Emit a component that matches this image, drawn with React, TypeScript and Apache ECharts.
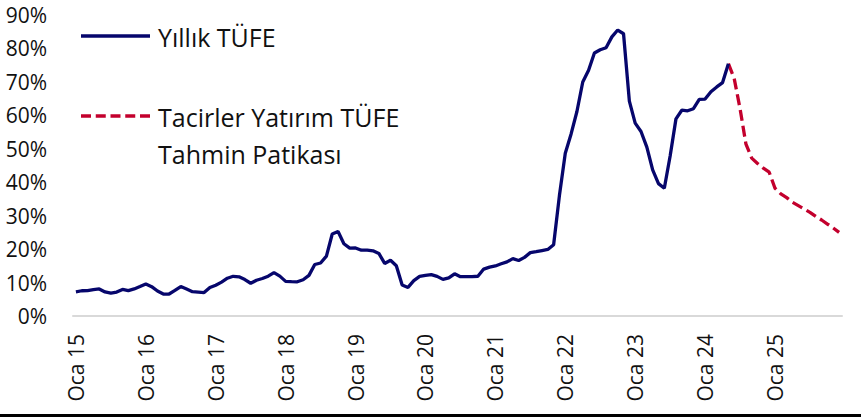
import React, { useEffect, useRef } from "react";
import * as echarts from "echarts";

// Years covered by the x-axis (monthly categories, Jan 2015 – Dec 2025)
const years = [15, 16, 17, 18, 19, 20, 21, 22, 23, 24, 25];
const monthLabel = "Oca";

// Yıllık TÜFE (annual CPI, %), monthly
const cpi2015 = [7.24, 7.55, 7.61, 7.91, 8.09, 7.2, 6.81, 7.14, 7.95, 7.58, 8.1, 8.81];
const cpi2016 = [9.58, 8.78, 7.46, 6.57, 6.58, 7.64, 8.79, 8.05, 7.28, 7.16, 7.0, 8.53];
const cpi2017 = [9.22, 10.13, 11.29, 11.87, 11.72, 10.9, 9.79, 10.68, 11.2, 11.9, 12.98, 11.92];
const cpi2018 = [10.35, 10.26, 10.23, 10.85, 12.15, 15.39, 15.85, 17.9, 24.52, 25.24, 21.62, 20.3];
const cpi2019 = [20.35, 19.67, 19.71, 19.5, 18.71, 15.72, 16.65, 15.01, 9.26, 8.55, 10.56, 11.84];
const cpi2020 = [12.15, 12.37, 11.86, 10.94, 11.39, 12.62, 11.76, 11.77, 11.75, 11.89, 14.03, 14.6];
const cpi2021 = [14.97, 15.61, 16.19, 17.14, 16.59, 17.53, 18.95, 19.25, 19.58, 19.89, 21.31, 36.08];
const cpi2022 = [48.69, 54.44, 61.14, 69.97, 73.5, 78.62, 79.6, 80.21, 83.45, 85.51, 84.39, 64.27];
const cpi2023 = [57.68, 55.18, 50.51, 43.68, 39.59, 38.21, 47.83, 58.94, 61.53, 61.36, 61.98, 64.77];
const cpi2024 = [64.86, 67.07, 68.5, 69.8, 75.45];

// Tacirler Yatırım TÜFE Tahmin Patikası (forecast, May 2024 – Dec 2025)
const forecast = [
  75.45, 71.0, 62.0, 51.5, 47.2, 45.6, 44.2, 43.0,
  38.2, 36.5, 35.4, 34.0, 33.0, 32.0, 31.0, 29.8, 28.7, 27.5, 26.3, 25.0,
];

const yTicks = [0, 10, 20, 30, 40, 50, 60, 70, 80, 90];

const seriesNames = ["Yıllık TÜFE", "Tacirler Yatırım TÜFE\nTahmin Patikası"];
const NAVY = "#06066C";
const RED = "#C3002D";
const FONT = "Open Sans";
const TEXT = "#111111";

export default function App() {
  const ref = useRef<HTMLDivElement>(null);

  useEffect(() => {
    if (!ref.current) return;
    const chart = echarts.init(ref.current, undefined, { renderer: "svg" });

    const categories: string[] = [];
    years.forEach((y) => {
      for (let m = 0; m < 12; m++) categories.push(m === 0 ? `${monthLabel} ${y}` : `${m + 1}/${y}`);
    });

    const actual = [
      ...cpi2015, ...cpi2016, ...cpi2017, ...cpi2018, ...cpi2019,
      ...cpi2020, ...cpi2021, ...cpi2022, ...cpi2023, ...cpi2024,
    ];
    const actualData: (number | null)[] = categories.map((_, i) => (i < actual.length ? actual[i] : null));
    const startF = actual.length - 1;
    const forecastData: (number | null)[] = categories.map((_, i) =>
      i >= startF && i - startF < forecast.length ? forecast[i - startF] : null
    );

    chart.setOption({
      animation: false,
      backgroundColor: "#ffffff",
      textStyle: { fontFamily: FONT },
      grid: { left: 73, right: 19, top: 15, bottom: 101 },
      xAxis: {
        type: "category",
        data: categories,
        boundaryGap: true,
        axisLine: { lineStyle: { color: "#D9D9D9", width: 2 } },
        axisTick: { interval: 11, length: 7, lineStyle: { color: "#D9D9D9", width: 2 } },
        axisLabel: {
          interval: 11,
          rotate: 90,
          margin: 18,
          fontSize: 21,
          color: TEXT,
          fontFamily: FONT,
        },
        splitLine: { show: false },
      },
      yAxis: {
        type: "value",
        min: yTicks[0],
        max: yTicks[yTicks.length - 1],
        interval: 10,
        axisLine: { show: false },
        axisTick: { show: false },
        splitLine: { show: false },
        axisLabel: {
          formatter: "{value}%",
          margin: 26,
          fontSize: 21,
          color: TEXT,
          fontFamily: FONT,
        },
      },
      series: [
        {
          name: seriesNames[0],
          type: "line",
          data: actualData,
          showSymbol: false,
          symbol: "none",
          connectNulls: false,
          lineStyle: { color: NAVY, width: 3.3 },
          itemStyle: { color: NAVY },
          z: 3,
        },
        {
          name: seriesNames[1],
          type: "line",
          data: forecastData,
          showSymbol: false,
          symbol: "none",
          connectNulls: false,
          lineStyle: { color: RED, width: 3.3, type: [11, 5] },
          itemStyle: { color: RED },
          z: 2,
        },
      ],
      graphic: [
        {
          type: "line",
          shape: { x1: 81, y1: 36, x2: 150, y2: 36 },
          style: { stroke: NAVY, lineWidth: 3.3 },
        },
        {
          type: "text",
          x: 158,
          y: 37,
          style: {
            text: seriesNames[0],
            fontSize: 25,
            fontFamily: FONT,
            fill: TEXT,
            verticalAlign: "middle",
            align: "left",
          },
        },
        {
          type: "line",
          shape: { x1: 81, y1: 116, x2: 150, y2: 116 },
          style: { stroke: RED, lineWidth: 3.3, lineDash: [10, 4.75] },
        },
        {
          type: "text",
          x: 158,
          y: 98,
          style: {
            text: seriesNames[1],
            fontSize: 25,
            lineHeight: 37,
            fontFamily: FONT,
            fill: TEXT,
            verticalAlign: "top",
            align: "left",
          },
        },
        {
          type: "rect",
          shape: { x: 0, y: 414, width: 861, height: 3 },
          style: { fill: "#000000" },
        },
      ],
    });

    return () => chart.dispose();
  }, []);

  return (
    <div
      ref={ref}
      style={{ position: "absolute", left: 0, top: 0, width: 861, height: 417 }}
    />
  );
}
